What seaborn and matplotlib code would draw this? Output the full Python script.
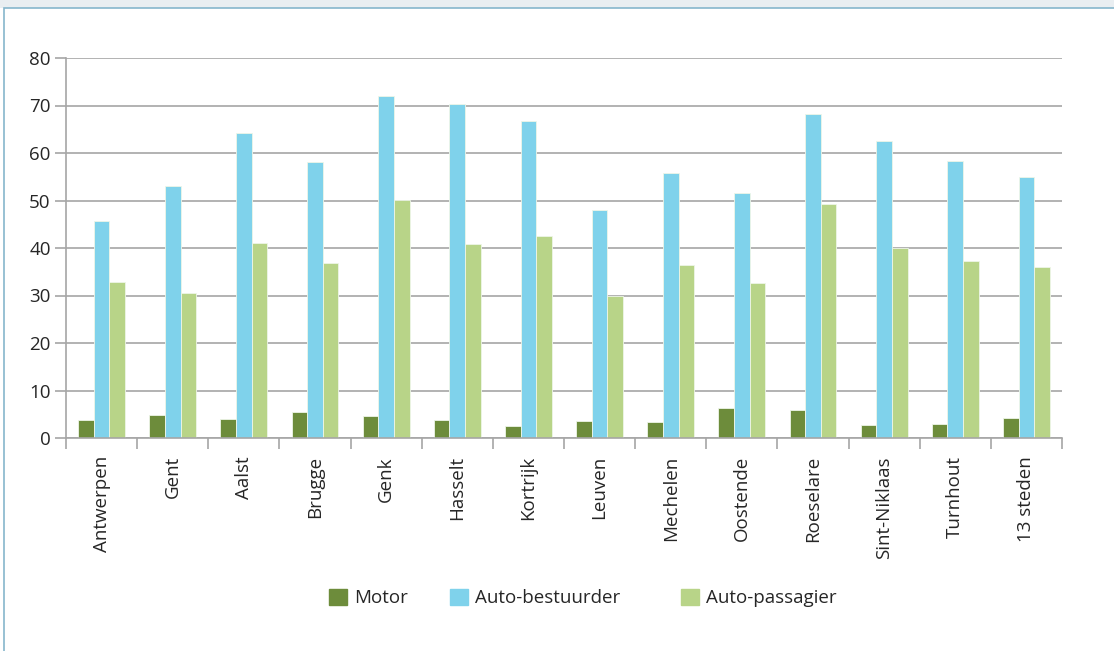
import pandas as pd
import numpy as np
import seaborn as sns
import matplotlib.pyplot as plt
from matplotlib.patches import Rectangle

steden = ['Antwerpen', 'Gent', 'Aalst', 'Brugge', 'Genk', 'Hasselt', 'Kortrijk',
          'Leuven', 'Mechelen', 'Oostende', 'Roeselare', 'Sint-Niklaas', 'Turnhout', '13 steden']
motor = [3.8, 4.8, 4.0, 5.4, 4.6, 3.8, 2.6, 3.6, 3.4, 6.3, 5.8, 2.8, 3.0, 4.2]
auto_bestuurder = [45.7, 53.1, 64.2, 58.2, 72.0, 70.4, 66.8, 48.0, 55.8, 51.6, 68.3, 62.6, 58.4, 55.0]
auto_passagier = [32.9, 30.5, 41.0, 36.9, 50.1, 40.9, 42.6, 30.0, 36.5, 32.6, 49.3, 40.1, 37.3, 35.9]
series = ['Motor', 'Auto-bestuurder', 'Auto-passagier']
colors = ['#6d8c3b', '#7fd2eb', '#b8d488']

df = pd.DataFrame({'stad': steden, 'Motor': motor,
                   'Auto-bestuurder': auto_bestuurder, 'Auto-passagier': auto_passagier})
long = df.melt(id_vars='stad', var_name='reeks', value_name='waarde')

sns.set_theme(style='white')
plt.rcParams['font.family'] = ['Open Sans', 'DejaVu Sans']
fs = 13.5

fig = plt.figure(figsize=(11.14, 6.51), dpi=100)
ax = fig.add_axes([66 / 1114, 1 - 438 / 651, (1062 - 66) / 1114, (438 - 58) / 651])

sns.barplot(data=long, x='stad', y='waarde', hue='reeks', hue_order=series,
            palette=colors, saturation=1, width=0.66, edgecolor='#eef6e8', linewidth=0.6,
            ax=ax, legend=False)

ax.set_ylim(0, 80)
ax.set_xlim(-0.5, len(steden) - 0.5)
ax.set_yticks(range(0, 81, 10))
ax.yaxis.grid(True, color='#a6a6a6', linewidth=1.2)
ax.set_axisbelow(True)
ax.set_xlabel('')
ax.set_ylabel('')
for s in ['top', 'right']:
    ax.spines[s].set_visible(False)
for s in ['left', 'bottom']:
    ax.spines[s].set_color('#a6a6a6')
    ax.spines[s].set_linewidth(1.2)

ax.tick_params(axis='y', length=8, color='#a6a6a6', width=1.2, labelsize=fs, pad=3, left=True)
ax.set_xticks(np.arange(len(steden)))
ax.set_xticklabels(steden, rotation=90, fontsize=fs)
ax.tick_params(axis='x', which='major', length=0, pad=13)
ax.set_xticks(np.arange(len(steden) + 1) - 0.5, minor=True)
ax.tick_params(axis='x', which='minor', length=8, color='#a6a6a6', width=1.2, bottom=True)

# legend entries placed one by one (uneven spacing as in the original)
legend_x = [329, 450, 681]
for name, c, lx in zip(series, colors, legend_x):
    fig.legend([Rectangle((0, 0), 1, 1, color=c)], [name], loc='center left',
               bbox_to_anchor=(lx / 1114, 1 - 598 / 651), frameon=False, fontsize=fs,
               handlelength=0.95, handleheight=0.95, handletextpad=0.4,
               borderpad=0, borderaxespad=0)

# frame around the chart
fig.patches.append(Rectangle((0, 1 - 8 / 651), 1, 8 / 651, transform=fig.transFigure,
                             facecolor='#e9eef1', edgecolor='none', zorder=0))
fig.patches.append(Rectangle((4 / 1114, -0.01), 1.2, 1 - 8 / 651 + 0.01, transform=fig.transFigure,
                             facecolor='none', edgecolor='#86b6cc', linewidth=1.2, zorder=1))

fig.savefig('out.png', dpi=100)
